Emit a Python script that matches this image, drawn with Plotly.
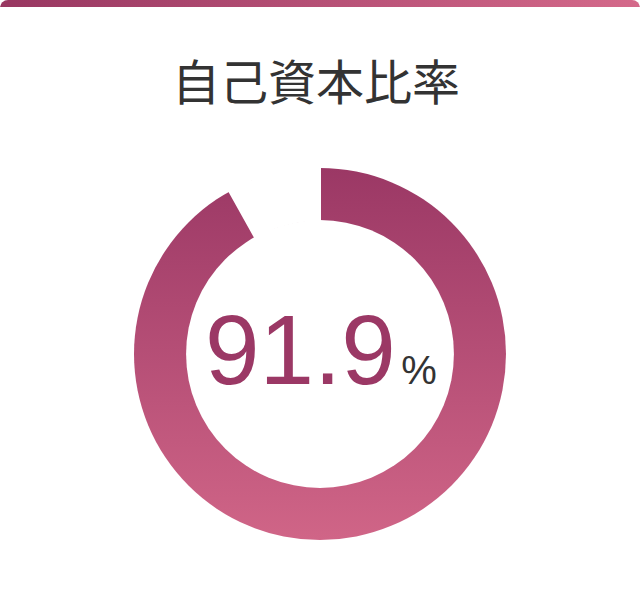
"""
plot.py - 自己資本比率 donut card
"""
import base64
import plotly.graph_objects as go

TITLE = "自己資本比率"
LABELS = ["自己資本比率", "その他"]
VALUES = [91.9, 8.1]
CENTER_VALUE = "91.9"
CENTER_UNIT = "%"

W, H = 640, 600


def svg_uri(svg):
    return "data:image/svg+xml;base64," + base64.b64encode(svg.encode("utf-8")).decode()


# gradient disc behind the pie (pie slice itself is transparent, gap slice is white)
ring_svg = (
    '<svg xmlns="http://www.w3.org/2000/svg" width="372" height="372" viewBox="0 0 100 100">'
    '<defs><linearGradient id="g" x1="0" y1="0" x2="0" y2="1">'
    '<stop offset="0" stop-color="#9b3865"/><stop offset="1" stop-color="#d06587"/>'
    '</linearGradient></defs>'
    '<circle cx="50" cy="50" r="50" fill="url(#g)"/>'
    '<circle cx="50" cy="50" r="36" fill="#ffffff"/></svg>'
)

# top accent bar with rounded card corners
bar_svg = (
    '<svg xmlns="http://www.w3.org/2000/svg" width="640" height="7" viewBox="0 0 640 7">'
    '<defs><linearGradient id="b" x1="0" y1="0" x2="1" y2="0">'
    '<stop offset="0" stop-color="#983761"/><stop offset="1" stop-color="#d4698a"/>'
    '</linearGradient><clipPath id="c"><rect x="0" y="0" width="640" height="40" rx="8" ry="8"/></clipPath></defs>'
    '<rect x="0" y="0" width="640" height="7" fill="url(#b)" clip-path="url(#c)"/></svg>'
)

fig = go.Figure()

fig.add_trace(go.Pie(
    labels=LABELS, values=VALUES,
    hole=0.72, sort=False, direction="clockwise", rotation=0,
    textinfo="none", hoverinfo="skip", showlegend=False,
    marker=dict(colors=["rgba(0,0,0,0)", "#ffffff"],
                line=dict(color=["rgba(0,0,0,0)", "#ffffff"], width=2)),
    domain=dict(x=[134 / W, 506 / W], y=[60 / H, 432 / H]),
))

center_text = (
    f"{CENTER_VALUE}<span style='font-size:20px'> </span>"
    f"<span style='font-size:40px;color:#333333'>{CENTER_UNIT}</span>"
)

fig.update_layout(
    width=W, height=H,
    margin=dict(l=0, r=0, t=0, b=0),
    paper_bgcolor="white", plot_bgcolor="white",
    images=[
        dict(source=svg_uri(ring_svg), xref="paper", yref="paper",
             x=134 / W, y=432 / H, sizex=372 / W, sizey=372 / H,
             xanchor="left", yanchor="top", sizing="stretch", layer="below"),
        dict(source=svg_uri(bar_svg), xref="paper", yref="paper",
             x=0, y=1, sizex=1, sizey=7 / H,
             xanchor="left", yanchor="top", sizing="stretch", layer="above"),
    ],
    annotations=[
        dict(text=TITLE, x=316 / W, y=1 - 79 / H, xref="paper", yref="paper",
             xanchor="center", yanchor="middle", showarrow=False,
             font=dict(family="Noto Sans CJK JP", size=48, color="#333333")),
        dict(text=center_text,
             x=321 / W, y=1 - 350 / H, xref="paper", yref="paper",
             xanchor="center", yanchor="middle", showarrow=False,
             font=dict(family="Liberation Sans, Arial", size=98, color="#9b3865")),
    ],
)

# page body margin off so the card sits flush with the window
fig.write_html("out.html", config={"displayModeBar": False},
               post_script="document.body.style.margin='0';")
